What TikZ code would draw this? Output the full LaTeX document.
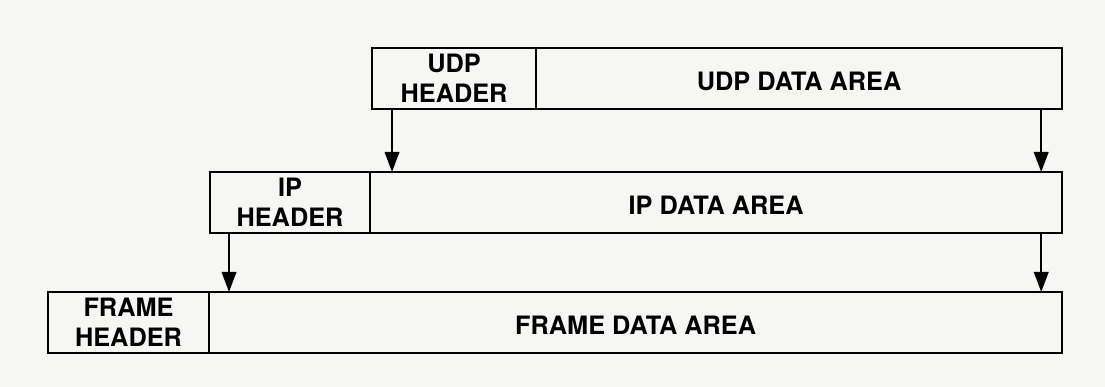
\documentclass[tikz,border=0pt]{standalone}
\usepackage{fontspec}
\setmainfont{TeX Gyre Heros}
\usetikzlibrary{arrows.meta,positioning}
\definecolor{paper}{RGB}{246,246,244}

\begin{document}
\begin{tikzpicture}[x=0.025cm,y=-0.025cm,
  field/.style={draw,line width=1.7pt,anchor=north west,inner sep=0pt,outer sep=0pt,align=center,
    minimum height=1.525cm,font=\bfseries\fontsize{18}{21}\selectfont},
  payload/.style={field,text height=17pt,text depth=0pt},
  down/.style={-{Triangle[length=0.5cm,width=0.36cm]},line width=1.7pt}]
\fill[paper](0,0) rectangle (1105,387);
% udp datagram
\node[field,minimum width=4.1cm] (udph) at (372,48) {UDP\\HEADER};
\node[payload,minimum width=13.15cm,right=0pt of udph.north east,anchor=north west] (udpd) {UDP DATA AREA};
% ip datagram
\node[field,minimum width=4cm] (iph) at (210,172) {IP\\HEADER};
\node[payload,minimum width=17.3cm,right=0pt of iph.north east,anchor=north west] (ipd) {IP DATA AREA};
% frame
\node[field,minimum width=4.025cm] (frh) at (48,292) {FRAME\\HEADER};
\node[payload,minimum width=21.325cm,right=0pt of frh.north east,anchor=north west] (frd) {FRAME DATA AREA};
% encapsulation arrows
\draw[down] ([xshift=0.5cm]udph.south west) -- ([xshift=0.5cm]udph.south west |- ipd.north);
\draw[down] ([xshift=-0.525cm]udpd.south east) -- ([xshift=-0.525cm]udpd.south east |- ipd.north);
\draw[down] ([xshift=0.475cm]iph.south west) -- ([xshift=0.475cm]iph.south west |- frd.north);
\draw[down] ([xshift=-0.525cm]ipd.south east) -- ([xshift=-0.525cm]ipd.south east |- frd.north);
\end{tikzpicture}
\end{document}
